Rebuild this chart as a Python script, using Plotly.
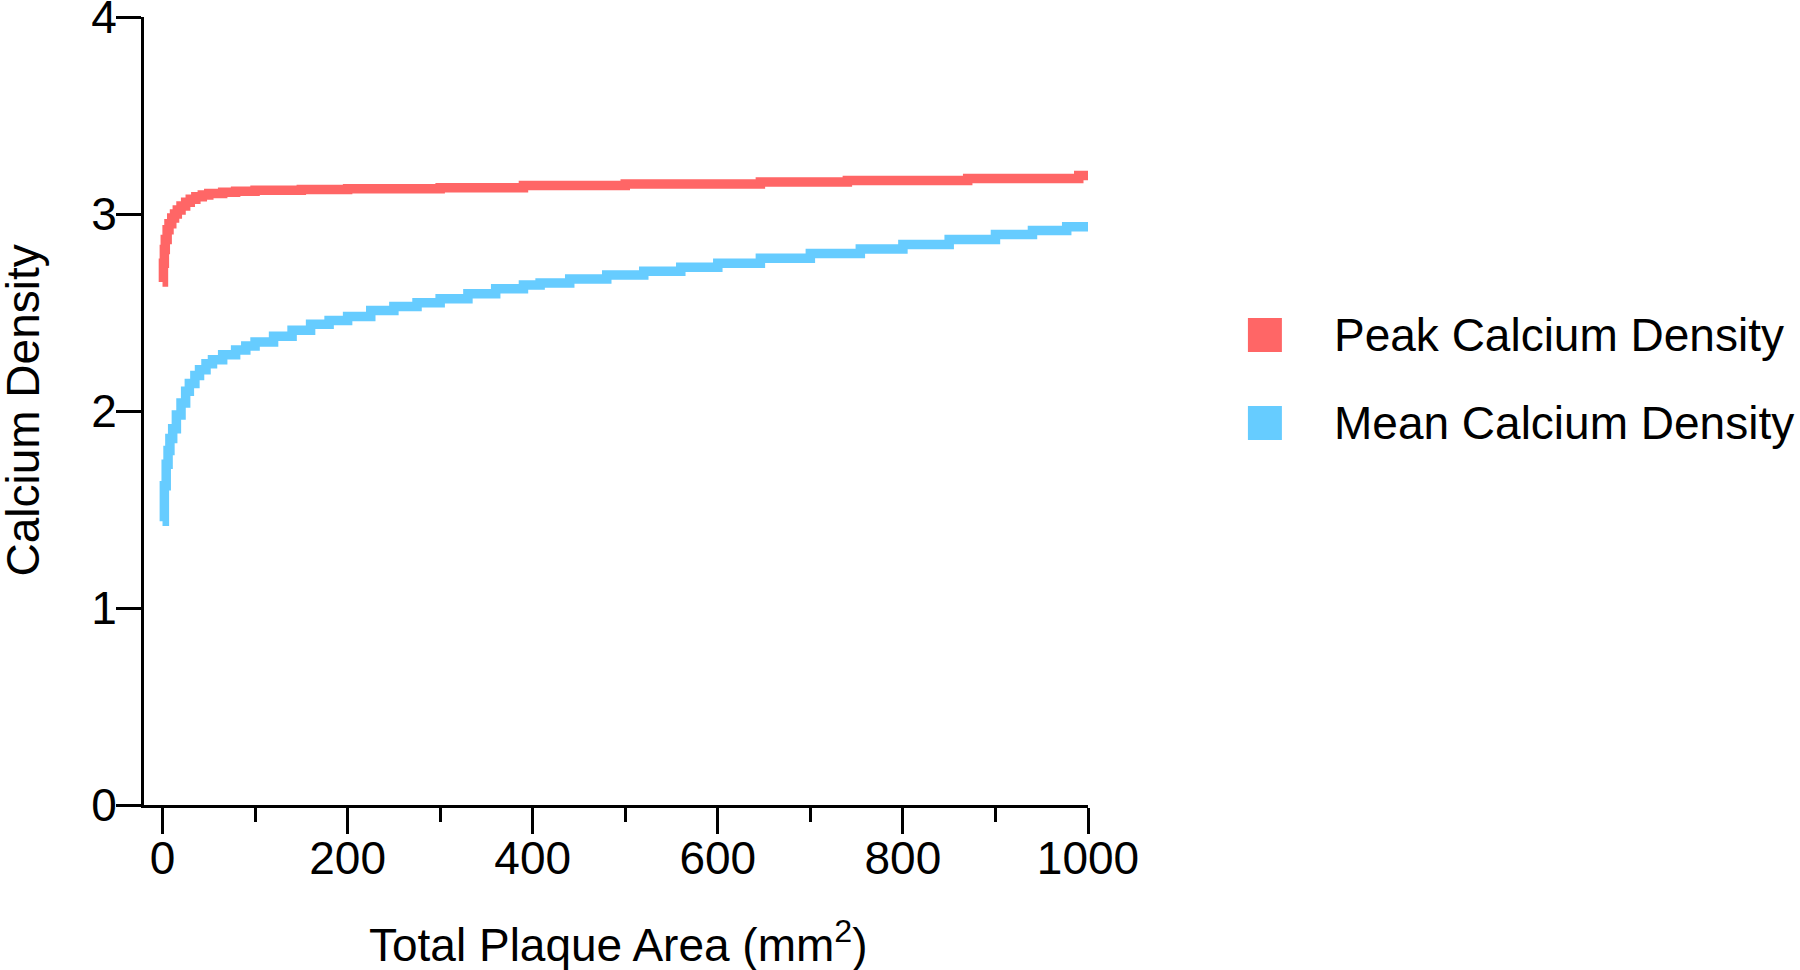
import plotly.graph_objects as go

# ---------------- data ----------------
peak_x = [0, 1, 2, 3, 5, 7, 10, 13, 16, 20, 25, 30, 36, 43, 50, 65, 79, 100, 150, 200,
          300, 390, 500, 646, 740, 870, 990, 1000]
peak_y = [2.655, 2.75, 2.82, 2.87, 2.92, 2.95, 2.98, 3.00, 3.02, 3.04, 3.06, 3.075, 3.087,
          3.097, 3.104, 3.11, 3.115, 3.12, 3.125, 3.128, 3.133, 3.145, 3.152, 3.162, 3.17,
          3.18, 3.195, 3.195]

mean_x = [0, 2, 4, 6, 8, 11, 15, 20, 25, 29, 35, 40, 47, 54, 65, 79, 90, 100, 120, 140,
          160, 180, 200, 225, 250, 275, 300, 330, 360, 390, 408, 440, 480, 520, 560, 600,
          646, 700, 754, 800, 850, 900, 940, 977, 1000]
mean_y = [1.44, 1.62, 1.73, 1.80, 1.86, 1.91, 1.98, 2.04, 2.10, 2.14, 2.18, 2.21, 2.24,
          2.26, 2.285, 2.31, 2.33, 2.35, 2.38, 2.41, 2.44, 2.46, 2.48, 2.51, 2.53, 2.55,
          2.57, 2.595, 2.62, 2.64, 2.65, 2.67, 2.69, 2.71, 2.73, 2.75, 2.776, 2.80, 2.822,
          2.845, 2.87, 2.896, 2.916, 2.935, 2.944]

series_names = ["Peak Calcium Density", "Mean Calcium Density"]
series_colors = ["#FF6666", "#66CCFF"]
x_tick_vals = [0, 200, 400, 600, 800, 1000]
y_tick_vals = [0, 1, 2, 3, 4]
x_title = "Total Plaque Area (mm<sup>2</sup>)"
y_title = "Calcium Density"

# ---------------- layout geometry (pixels) ----------------
W, H = 1800, 970
L, R, T, B = 143.5, 1088, 17, 805   # plot area edges
FONT = "Liberation Sans, Arial, Helvetica, sans-serif"
FS = 46

def px_to_paper(px, py):
    return (px - L) / (R - L), (B - py) / (B - T)

fig = go.Figure()
for xs, ys, name, col in [(peak_x, peak_y, series_names[0], series_colors[0]),
                          (mean_x, mean_y, series_names[1], series_colors[1])]:
    fig.add_trace(go.Scatter(x=xs, y=ys, mode="lines", name=name,
                             line=dict(color=col, width=9.5, shape="hv"),
                             showlegend=False))

# manual legend (large square swatches)
legend_rows_y = [335, 423]
for i, (name, col) in enumerate(zip(series_names, series_colors)):
    cy = legend_rows_y[i]
    x0, y0 = px_to_paper(1248, cy + 17)
    x1, y1 = px_to_paper(1282, cy - 17)
    fig.add_shape(type="rect", xref="paper", yref="paper", x0=x0, x1=x1, y0=y0, y1=y1,
                  fillcolor=col, line=dict(width=0))
    tx, ty = px_to_paper(1332.5, cy)
    fig.add_annotation(xref="paper", yref="paper", x=tx, y=ty, text=name,
                       showarrow=False, xanchor="left", yanchor="middle",
                       font=dict(family=FONT, size=FS, color="black"))

# axis titles placed as annotations (free of margin clamping)
xt_x, xt_y = px_to_paper(618, 942)
fig.add_annotation(xref="paper", yref="paper", x=xt_x, y=xt_y, text=x_title,
                   showarrow=False, xanchor="center", yanchor="middle",
                   font=dict(family=FONT, size=FS, color="black"))
yt_x, yt_y = px_to_paper(22, 411)
fig.add_annotation(xref="paper", yref="paper", x=yt_x, y=yt_y, text=y_title,
                   showarrow=False, xanchor="center", yanchor="middle", textangle=-90,
                   font=dict(family=FONT, size=FS, color="black"))

fig.update_layout(
    width=W, height=H,
    margin=dict(l=L, r=W - R, t=T, b=H - B, pad=0, autoexpand=False),
    paper_bgcolor="white", plot_bgcolor="white",
    font=dict(family=FONT, size=FS, color="black"),
    showlegend=False,
)
fig.update_xaxes(
    range=[-20, 1000], tickvals=x_tick_vals, ticks="outside", ticklen=26, tickwidth=3,
    tickcolor="black", showline=True, linecolor="black", linewidth=3, automargin=False,
    showgrid=False, zeroline=False, ticklabelstandoff=-15, ticklabeloverflow="allow",
    minor=dict(ticks="outside", ticklen=14, tickwidth=3, tickcolor="black",
               dtick=100, tick0=0, showgrid=False),
)
fig.update_yaxes(
    range=[0, 4], tickvals=y_tick_vals, ticks="outside", ticklen=25, tickwidth=3,
    tickcolor="black", showline=True, linecolor="black", linewidth=3, automargin=False,
    showgrid=False, zeroline=False, ticklabelstandoff=-10, ticklabeloverflow="allow",
)

fig.write_html("out.html", config={"displayModeBar": False},
               post_script="document.body.style.margin='0';document.body.style.overflow='hidden';")
